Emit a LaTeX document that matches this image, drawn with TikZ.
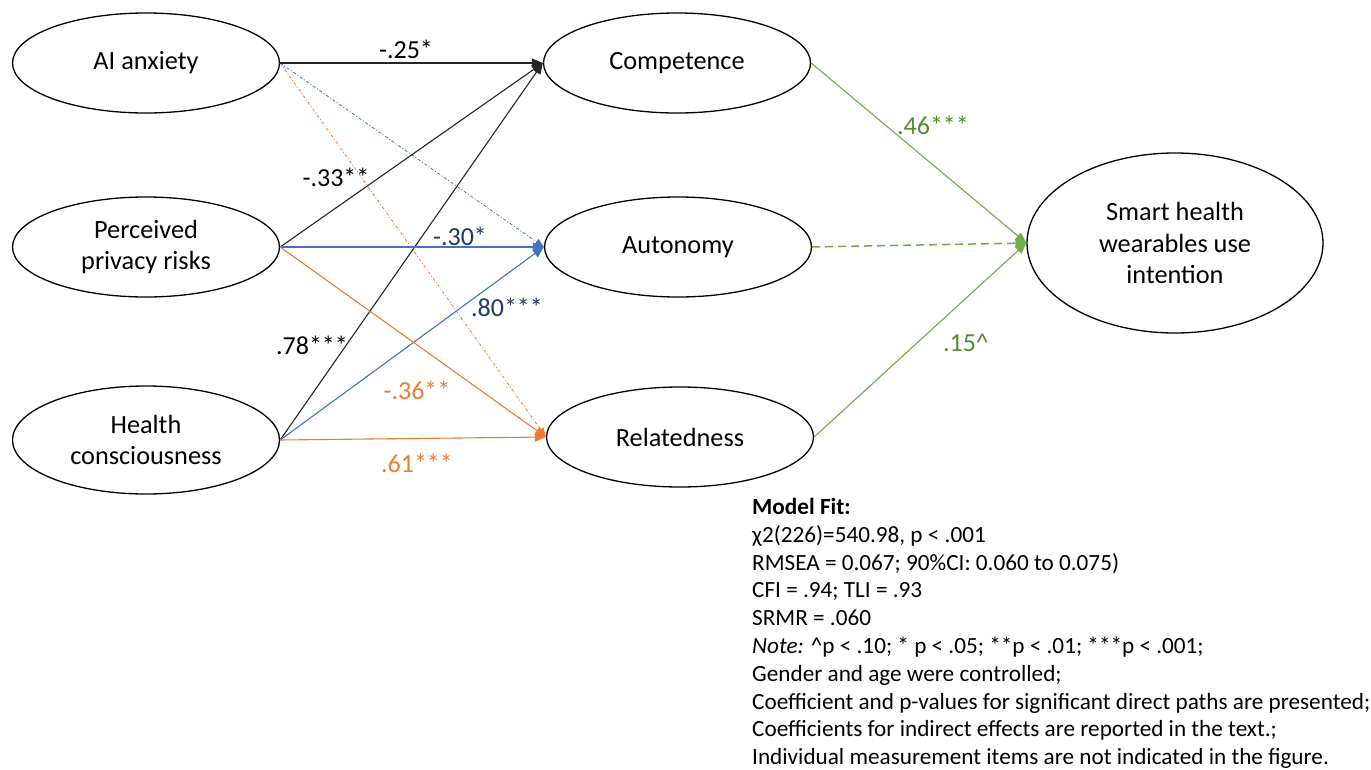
\documentclass[tikz,border=0pt]{standalone}
\usepackage{fontspec}
\setmainfont{Carlito}
\usetikzlibrary{shapes.geometric,arrows.meta}
\definecolor{cblack}{HTML}{262626}
\definecolor{cblue}{HTML}{4472C4}
\definecolor{cnavy}{HTML}{203864}
\definecolor{corange}{HTML}{ED7D31}
\definecolor{cgreen}{HTML}{70AD47}
\definecolor{cgreentext}{HTML}{548C30}
\tikzset{
  latent/.style={ellipse, draw=black, line width=1.3pt, minimum width=267pt, minimum height=100pt, inner sep=0pt, align=center, font=\fontsize{26.3}{31.5}\selectfont},
  path/.style={line width=1.1pt, -{Triangle[length=11pt,width=9pt]}},
  weak/.style={line width=0.8pt, dash pattern=on 3pt off 2pt on 1pt off 2pt, -{Triangle[length=9pt,width=7pt]}},
  lbl/.style={inner sep=0pt, font=\fontsize{26}{30}\selectfont},
}
\begin{document}
\begin{tikzpicture}[x=1pt,y=-1pt]
\useasboundingbox (0,0) rectangle (1371,769);
\fill[white] (0,0) rectangle (1371,769);
% left
\node[latent] (ai) at (146,63) {AI anxiety};
\node[latent] (ppr) at (146,247) {Perceived\\privacy risks};
\node[latent, minimum height=108pt] (hc) at (146,440) {Health\\consciousness};
% middle
\node[latent] (comp) at (677,63) {Competence};
\node[latent] (aut) at (678,247) {Autonomy};
\node[latent] (rel) at (680,437) {Relatedness};
% right
\node[latent, minimum width=296pt, minimum height=180pt] (use) at (1175,243) {Smart health\\wearables use\\intention};

% weak paths from AI anxiety
\draw[weak, cblue] (ai.east) -- (aut.west);
\draw[weak, corange] (ai.east) -- (rel.west);
% paths
\draw[path, cblack] (ai.east) -- (comp.west);
\draw[path, cblack] (ppr.east) -- (comp.west);
\draw[path, cblack] (hc.east) -- (comp.west);
\draw[path, cblue] (ppr.east) -- (aut.west);
\draw[path, cblue] (hc.east) -- (aut.west);
\draw[path, corange] (ppr.east) -- (rel.west);
\draw[path, corange] (hc.east) -- (rel.west);
% to outcome
\draw[path, cgreen] (comp.east) -- (use.west);
\draw[path, cgreen, dash pattern=on 8pt off 5pt, line width=1.5pt] (aut.east) -- (use.west);
\draw[path, cgreen] (rel.east) -- (use.west);

% labels
\node[lbl, text=black] (l1) at (406,49) {-.25*};
\node[lbl, text=black] (l2) at (336,177) {-.33**};
\node[lbl, text=cnavy] (l3) at (460,236) {-.30*};
\node[lbl, text=black] (l4) at (312,345) {.78***};
\node[lbl, text=cnavy] (l5) at (507,307) {.80***};
\node[lbl, text=corange] (l6) at (417,390) {-.36**};
\node[lbl, text=corange] (l7) at (417,463) {.61***};
\node[lbl, text=cgreentext] (l8) at (933,125) {.46***};
\node[lbl, text=cgreentext] (l9) at (966,343) {.15\^{}};

% model fit
\node[anchor=north west, inner sep=0pt, align=left, font=\fontsize{23.2}{27.8}\selectfont] (fit) at (752,498) {%
\textbf{Model Fit:}\\
χ2(226)=540.98, p < .001\\
RMSEA = 0.067; 90\%CI: 0.060 to 0.075)\\
CFI = .94; TLI = .93\\
SRMR = .060\\
\textit{Note:} \^{}p < .10; * p < .05; **p < .01; ***p < .001;\\
Gender and age were controlled;\\
Coefficient and p-values for significant direct paths are presented;\\
Coefficients for indirect effects are reported in the text.;\\
Individual measurement items are not indicated in the figure.};
\end{tikzpicture}
\end{document}
